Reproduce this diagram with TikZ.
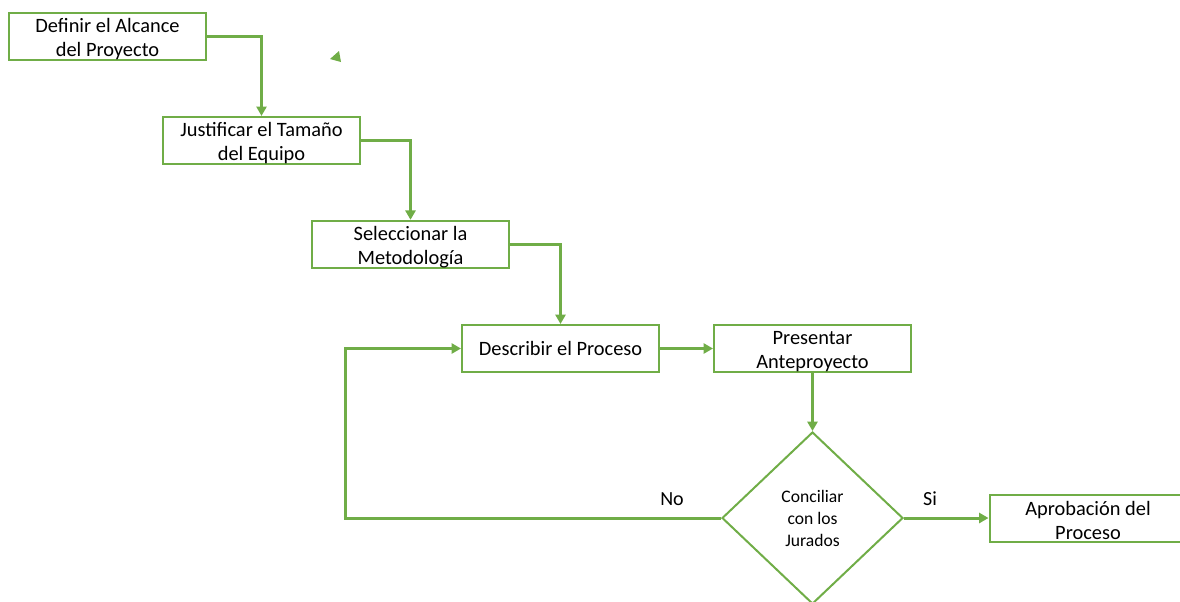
\documentclass[tikz,border=0pt]{standalone}
\usepackage{fontspec}
\setmainfont{Carlito}
\usetikzlibrary{arrows.meta,shapes.geometric}
\definecolor{leaf}{HTML}{70AD47}
% raises the first line's height so two-line text sits a little lower in its box
\newcommand\firstlinestrut{\rule{0pt}{14.5pt}}
\begin{document}
\begin{tikzpicture}[x=0.75pt,y=-0.75pt,
  stepbox/.style={draw=leaf,line width=1.5pt,rectangle,inner sep=0pt,
    minimum width=147.75pt,minimum height=35.25pt,align=center,
    font=\fontsize{15.3}{18.4}\selectfont},
  choice/.style={draw=leaf,line width=1.5pt,diamond,inner sep=0pt,
    minimum width=135.75pt,minimum height=129pt,align=center,
    font=\fontsize{13.2}{16.5}\selectfont},
  flow/.style={draw=leaf,line width=2.25pt,
    -{Triangle[length=7pt,width=7.5pt]}},
  tag/.style={font=\fontsize{15}{18}\selectfont,anchor=base}]
\useasboundingbox (0,0) rectangle (1180,601);

% process steps
\node[stepbox] (alcance)  at (107.5,36.5)  {\firstlinestrut Definir el Alcance\\del Proyecto};
\node[stepbox] (equipo)   at (261.5,140.5) {\firstlinestrut Justificar el Tamaño\\del Equipo};
\node[stepbox] (metodo)   at (410.5,244.5) {\firstlinestrut Seleccionar la\\Metodología};
\node[stepbox] (proceso)  at (560.5,348.5) {Describir el Proceso};
\node[stepbox] (antep)    at (812.5,348.5) {\firstlinestrut Presentar\\Anteproyecto};
\node[stepbox] (aprob)    at (1088,518)    {\firstlinestrut Aprobación del\\Proceso};
\node[choice]  (jurados)  at (812.5,518)   {Conciliar\\con los\\Jurados};

% branch labels
\node[tag] (no) at (672,505) {No};
\node[tag] (si) at (930,505) {Si};

% connectors
\coordinate (loop) at (345,518);
\draw[flow] (alcance.east) -| (equipo.north);
\draw[flow] (equipo.east)  -| (metodo.north);
\draw[flow] (metodo.east)  -| (proceso.north);
\draw[flow] (proceso.east) -- (antep.west);
\draw[flow] (antep.south)  -- (jurados.north);
\draw[flow] (jurados.west) -- (loop) |- (proceso.west);
\draw[flow] (jurados.east) -- (aprob.west);

% loose arrow tip
\coordinate (tipA) at (339,51);
\coordinate (tipB) at (330,59);
\coordinate (tipC) at (341,62);
\fill[leaf] (tipA) -- (tipB) -- (tipC) -- cycle;
\end{tikzpicture}
\end{document}
